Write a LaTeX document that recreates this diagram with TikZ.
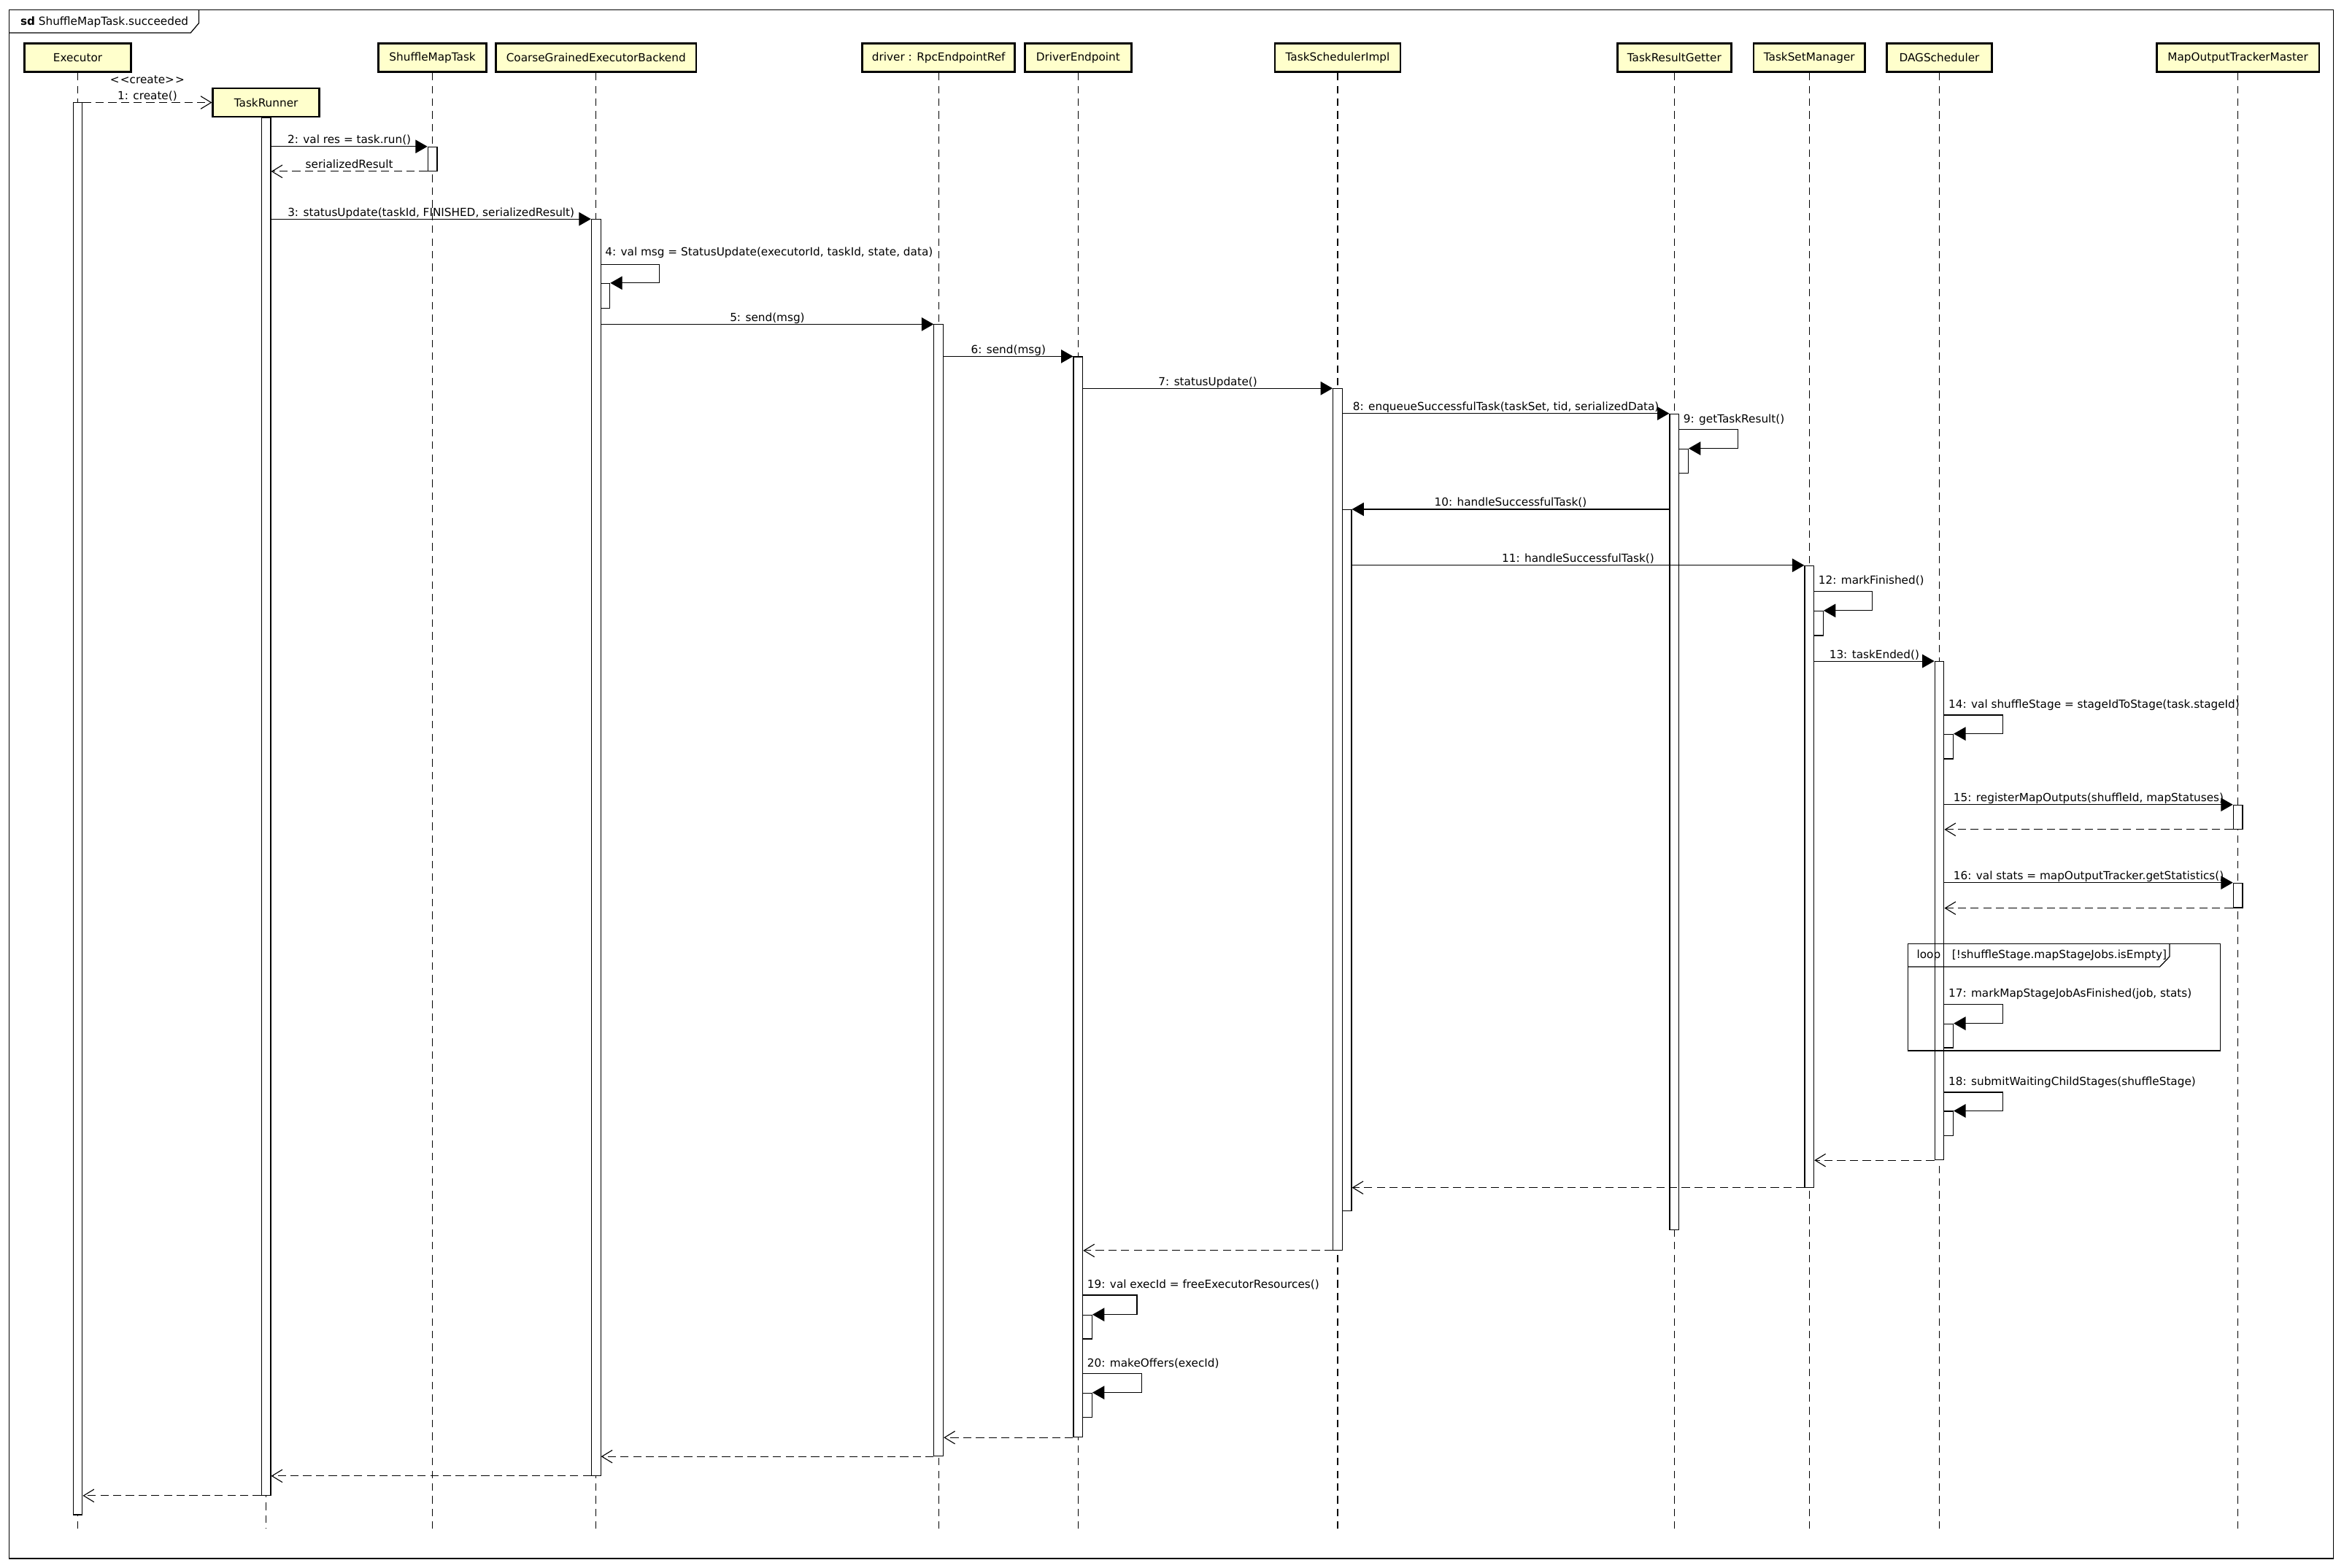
\documentclass[tikz,border=0pt]{standalone}
\usepackage{fontspec}
\setmainfont{DejaVu Sans}
\usetikzlibrary{arrows.meta}
\definecolor{headfill}{RGB}{255,255,204}
\newcommand{\msgfont}{\fontsize{7.45}{9}\selectfont}
\tikzset{
  head/.style={draw, line width=1.4pt, fill=headfill, minimum height=19pt, inner sep=1pt},
  lifeline/.style={line width=0.55pt, dash pattern=on 5pt off 3.5pt},
  actbar/.style={draw, line width=0.55pt, fill=white, minimum width=6.2pt, inner sep=0pt},
  call/.style={line width=0.55pt, -{Triangle[length=8pt,width=9pt]}},
  reply/.style={line width=0.55pt, dash pattern=on 5.5pt off 3pt, -{Straight Barb[length=7pt,width=8.5pt]}},
  msglabel/.style={inner sep=0pt, anchor=base, yshift=2pt},
  selflabel/.style={inner sep=0pt, anchor=base west, xshift=2.5pt, yshift=4.5pt}
}
% activation bar: name, x, top, bottom
\newcommand{\activation}[4]{\node[actbar, minimum height={#4-#3}] (#1) at (#2,{(#3+#4)/2}) {};}

\begin{document}
\begin{tikzpicture}[x=1pt, y=-1pt, font=\msgfont]
\useasboundingbox (0,0) rectangle (1568,1049);

% --- Frame ---
\draw[line width=0.7pt] (6.2,6.5) rectangle (1561,1042.7);
\draw[line width=0.6pt] (6.2,22) -- (127.5,22) -- (133,15.5) -- (133,6.5);
\node[anchor=west, inner sep=0pt] (title) at (13.5,15) {\textbf{sd} ShuffleMapTask.succeeded};

% --- Lifeline heads ---
\node[head, minimum width=71pt] (executor) at (52,38.7) {Executor};
\node[head, minimum width=71pt] (taskRunner) at (178,68.6) {TaskRunner};
\node[head, minimum width=72pt] (smTask) at (289.3,38.7) {ShuffleMapTask};
\node[head, minimum width=134pt] (cgBackend) at (398.7,38.7) {CoarseGrainedExecutorBackend};
\node[head, minimum width=102pt] (driverRef) at (627.9,38.7) {driver : RpcEndpointRef};
\node[head, minimum width=71pt] (driverEnd) at (721.2,38.7) {DriverEndpoint};
\node[head, minimum width=84pt] (tsImpl) at (894.8,38.7) {TaskSchedulerImpl};
\node[head, minimum width=76pt] (trGetter) at (1120,38.7) {TaskResultGetter};
\node[head, minimum width=74.5pt] (tsManager) at (1210.3,38.7) {TaskSetManager};
\node[head, minimum width=70.5pt] (dagSched) at (1297.3,38.7) {DAGScheduler};
\node[head, minimum width=108.7pt] (mapTracker) at (1497,38.7) {MapOutputTrackerMaster};

% --- Lifelines ---
\coordinate (bottom) at (0,1022.7);
\draw[lifeline] (executor.south) -- (executor.south |- bottom);
\draw[lifeline] (taskRunner.south) -- (taskRunner.south |- bottom);
\draw[lifeline] (smTask.south) -- (smTask.south |- bottom);
\draw[lifeline] (cgBackend.south) -- (cgBackend.south |- bottom);
\draw[lifeline] (driverRef.south) -- (driverRef.south |- bottom);
\draw[lifeline] (driverEnd.south) -- (driverEnd.south |- bottom);
\draw[lifeline] (tsImpl.south) -- (tsImpl.south |- bottom);
\draw[lifeline] (trGetter.south) -- (trGetter.south |- bottom);
\draw[lifeline] (tsManager.south) -- (tsManager.south |- bottom);
\draw[lifeline] (dagSched.south) -- (dagSched.south |- bottom);
\draw[lifeline] (mapTracker.south) -- (mapTracker.south |- bottom);

% --- Activations ---
\activation{exA}{52}{68.6}{1013.4}
\activation{trA}{178}{78.8}{1000.4}
\activation{smA}{289.3}{98.3}{114.4}
\activation{cgA}{398.7}{146.8}{987.2}
\activation{cgS}{404.9}{189.6}{206.4}
\activation{rpA}{627.9}{217.2}{974.2}
\activation{deA}{721.2}{238.7}{961.5}
\activation{deS1}{727.4}{879.8}{895.8}
\activation{deS2}{727.4}{932}{948.2}
\activation{tsA}{894.8}{260.1}{836.4}
\activation{tsS}{901}{341}{810.3}
\activation{trgA}{1120}{276.9}{823}
\activation{trgS}{1126.2}{300.3}{316.6}
\activation{tmA}{1210.3}{378.5}{794.3}
\activation{tmS}{1216.5}{408.8}{425.2}
\activation{dgA}{1297.3}{442.6}{776}
\activation{dgS1}{1303.5}{491.2}{507.7}
\activation{dgS2}{1303.5}{685}{701}
\activation{dgS3}{1303.5}{743.5}{760}
\activation{moA1}{1497}{538.6}{554.7}
\activation{moA2}{1497}{590.8}{607.3}

% --- Loop fragment ---
\draw[line width=0.6pt] (1276.2,631.4) rectangle (1485.1,703);
\draw[line width=0.6pt] (1276.2,646.8) -- (1444.8,646.8) -- (1451.3,640) -- (1451.3,631.4);
\node[anchor=west, inner sep=0pt] (loopKw) at (1282,639.1) {loop};
\node[anchor=west, inner sep=0pt] (loopGuard) at (1305.6,639.1) {[!shuffleStage.mapStageJobs.isEmpty]};

% --- Messages ---
\draw[reply] (exA.east |- taskRunner.west) -- (taskRunner.west)
  node[msglabel, midway] (m1) {1: create()}
  node[msglabel, midway, yshift=10.5pt] (m1s) {<\kern0.6pt<create>\kern0.6pt>};
\draw[call] (trA.east |- smA.north) -- (smA.north west) node[msglabel, midway] (m2) {2: val res = task.run()};
\draw[reply] (smA.south west) -- (trA.east |- smA.south west) node[msglabel, midway] (r2) {serializedResult};
\draw[call] (trA.east |- cgA.north) -- (cgA.north west) node[msglabel, midway] (m3) {3: statusUpdate(taskId, FINISHED, serializedResult)};
\draw[call] (cgA.east |- 0,177) node[selflabel, yshift=1.5pt] (m4) {4: val msg = StatusUpdate(executorId, taskId, state, data)} -- ++(39,0) |- (cgS.north east);
\draw[call] (cgA.east |- rpA.north) -- (rpA.north west) node[msglabel, midway] (m5) {5: send(msg)};
\draw[call] (rpA.east |- deA.north) -- (deA.north west) node[msglabel, midway] (m6) {6: send(msg)};
\draw[call] (deA.east |- tsA.north) -- (tsA.north west) node[msglabel, midway] (m7) {7: statusUpdate()};
\draw[call] (tsA.east |- trgA.north) -- (trgA.north west) node[msglabel, midway] (m8) {8: enqueueSuccessfulTask(taskSet, tid, serializedData)};
\draw[call] (trgA.east |- 0,287.3) node[selflabel] (m9) {9: getTaskResult()} -- ++(39,0) |- (trgS.north east);
\draw[call] (trgA.west |- tsS.north) -- (tsS.north east) node[msglabel, midway] (m10) {10: handleSuccessfulTask()};
\draw[call] (tsS.east |- tmA.north) -- (tmA.north west) node[msglabel, midway] (m11) {11: handleSuccessfulTask()};
\draw[call] (tmA.east |- 0,395.5) node[selflabel] (m12) {12: markFinished()} -- ++(38.6,0) |- (tmS.north east);
\draw[call] (tmA.east |- dgA.north) -- (dgA.north west) node[msglabel, midway] (m13) {13: taskEnded()};
\draw[call] (dgA.east |- 0,478.4) node[selflabel] (m14) {14: val shuffleStage = stageIdToStage(task.stageId)} -- ++(39,0) |- (dgS1.north east);
\draw[call] (dgA.east |- moA1.north) -- (moA1.north west) node[msglabel, midway] (m15) {15: registerMapOutputs(shuffleId, mapStatuses)};
\draw[reply] (moA1.south west) -- (dgA.east |- moA1.south west);
\draw[call] (dgA.east |- moA2.north) -- (moA2.north west) node[msglabel, midway] (m16) {16: val stats = mapOutputTracker.getStatistics()};
\draw[reply] (moA2.south west) -- (dgA.east |- moA2.south west);
\draw[call] (dgA.east |- 0,671.8) node[selflabel] (m17) {17: markMapStageJobAsFinished(job, stats)} -- ++(39,0) |- (dgS2.north east);
\draw[call] (dgA.east |- 0,730.8) node[selflabel] (m18) {18: submitWaitingChildStages(shuffleStage)} -- ++(39,0) |- (dgS3.north east);

% --- Returns ---
\draw[reply] (dgA.south west) -- (tmA.east |- dgA.south west);
\draw[reply] (tmA.south west) -- (tsS.east |- tmA.south west);
\draw[reply] (tsA.south west) -- (deA.east |- tsA.south west);
\draw[call] (deA.east |- 0,866.5) node[selflabel] (m19) {19: val execId = freeExecutorResources()} -- ++(36,0) |- (deS1.north east);
\draw[call] (deA.east |- 0,918.9) node[selflabel] (m20) {20: makeOffers(execId)} -- ++(39,0) |- (deS2.north east);
\draw[reply] (deA.south west) -- (rpA.east |- deA.south west);
\draw[reply] (rpA.south west) -- (cgA.east |- rpA.south west);
\draw[reply] (cgA.south west) -- (trA.east |- cgA.south west);
\draw[reply] (trA.south west) -- (exA.east |- trA.south west);

\end{tikzpicture}
\end{document}
